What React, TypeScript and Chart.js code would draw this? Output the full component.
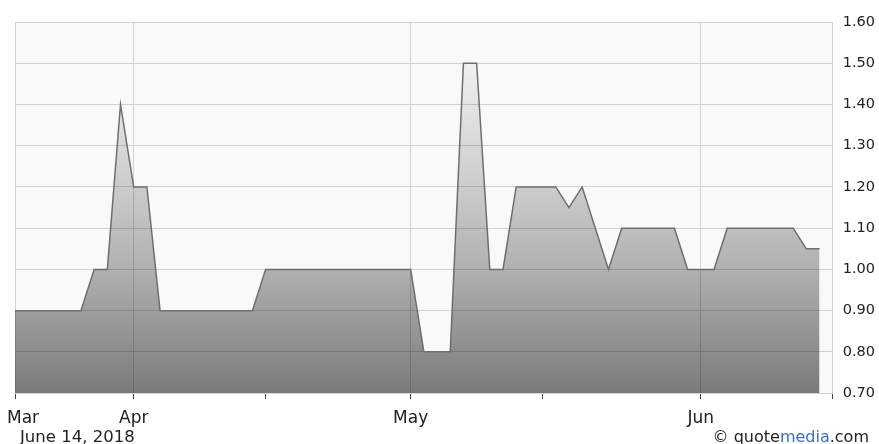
import React, { useEffect, useRef } from 'react';
import { Chart, registerables } from 'chart.js';

Chart.register(...registerables);

// Trading days shown on the chart (x categories)
const tradingDays = [
  '2018-03-19', '2018-03-20', '2018-03-21', '2018-03-22', '2018-03-23',
  '2018-03-26', '2018-03-27', '2018-03-28', '2018-03-29',
  '2018-04-02', '2018-04-03', '2018-04-04', '2018-04-05', '2018-04-06',
  '2018-04-09', '2018-04-10', '2018-04-11', '2018-04-12', '2018-04-13',
  '2018-04-16', '2018-04-17', '2018-04-18', '2018-04-19', '2018-04-20',
  '2018-04-23', '2018-04-24', '2018-04-25', '2018-04-26', '2018-04-27',
  '2018-04-30',
  '2018-05-01', '2018-05-02', '2018-05-03', '2018-05-04',
  '2018-05-07', '2018-05-08', '2018-05-09', '2018-05-10', '2018-05-11',
  '2018-05-14', '2018-05-15', '2018-05-16', '2018-05-17', '2018-05-18',
  '2018-05-21', '2018-05-22', '2018-05-23', '2018-05-24', '2018-05-25',
  '2018-05-29', '2018-05-30', '2018-05-31',
  '2018-06-01', '2018-06-04', '2018-06-05', '2018-06-06', '2018-06-07',
  '2018-06-08', '2018-06-11', '2018-06-12', '2018-06-13', '2018-06-14',
];

// Closing prices
const closePrices = [
  0.90, 0.90, 0.90, 0.90, 0.90, 0.90, 1.00, 1.00, 1.40,
  1.20, 1.20, 0.90, 0.90, 0.90, 0.90, 0.90, 0.90, 0.90, 0.90,
  1.00, 1.00, 1.00, 1.00, 1.00, 1.00, 1.00, 1.00, 1.00, 1.00, 1.00,
  1.00, 0.80, 0.80, 0.80, 1.50, 1.50, 1.00, 1.00, 1.20, 1.20,
  1.20, 1.20, 1.15, 1.20, 1.10, 1.00, 1.10, 1.10, 1.10, 1.10, 1.10,
  1.00, 1.00, 1.00, 1.10, 1.10, 1.10, 1.10, 1.10, 1.10, 1.05, 1.05,
];

// X axis ticks (dates) and their labels
const xTickDates = ['2018-03-19', '2018-04-02', '2018-04-16', '2018-05-01', '2018-05-15', '2018-06-01', '2018-06-15'];
const xTickLabels = ['Mar', 'Apr', '', 'May', '', 'Jun', ''];
const xGridDates = ['2018-03-19', '2018-04-02', '2018-05-01', '2018-06-01', '2018-06-15'];

// Y axis ticks
const yTickValues = [0.7, 0.8, 0.9, 1.0, 1.1, 1.2, 1.3, 1.4, 1.5, 1.6];

const footerDate = 'June 14, 2018';

const dateIndex = (d: string) => {
  const i = tradingDays.indexOf(d);
  return i === -1 ? tradingDays.length : i;
};

export default function App() {
  const canvasRef = useRef<HTMLCanvasElement | null>(null);

  useEffect(() => {
    if (!canvasRef.current) return;
    const xTickIdx = xTickDates.map(dateIndex);
    const xGridIdx = xGridDates.map(dateIndex);

    const plotBg = {
      id: 'plotBg',
      beforeDraw(chart: any) {
        const { ctx, chartArea: a } = chart;
        ctx.save();
        ctx.fillStyle = '#f9f9f9';
        ctx.fillRect(a.left, a.top, a.right - a.left, a.bottom - a.top);
        ctx.restore();
        const sx: any = chart.scales.x;
        if (sx && typeof sx.getLabelItems === 'function') {
          const items = sx.getLabelItems();
          if (items && items[0] && items[0].label === xTickLabels[0]) {
            items[0].options.textAlign = 'left';
            items[0].options.translation = [a.left - 8, items[0].options.translation[1]];
          }
        }
      },
    };

    const chart = new Chart(canvasRef.current, {
      type: 'line',
      data: {
        datasets: [
          {
            data: closePrices.map((p, i) => ({ x: i, y: p })),
            borderColor: '#6e6e6e',
            borderWidth: 1.5,
            pointRadius: 0,
            tension: 0,
            fill: 'start',
            backgroundColor: (ctx: any) => {
              const ca = ctx.chart.chartArea;
              if (!ca) return 'rgba(0,0,0,0.25)';
              const g = ctx.chart.ctx.createLinearGradient(0, ca.top, 0, ca.bottom);
              g.addColorStop(0, 'rgba(0,0,0,0.0)');
              g.addColorStop(0.13, 'rgba(0,0,0,0.045)');
              g.addColorStop(0.44, 'rgba(0,0,0,0.18)');
              g.addColorStop(0.67, 'rgba(0,0,0,0.295)');
              g.addColorStop(1, 'rgba(0,0,0,0.51)');
              return g;
            },
          },
        ],
      },
      options: {
        animation: false,
        responsive: false,
        events: [],
        layout: { padding: { left: 15, top: 22, right: -6, bottom: 6.5 } },
        plugins: { legend: { display: false }, tooltip: { enabled: false } },
        scales: {
          x: {
            type: 'linear',
            min: 0,
            max: tradingDays.length,
            afterBuildTicks: (axis: any) => {
              axis.ticks = xTickIdx.map((v) => ({ value: v }));
            },
            ticks: {
              autoSkip: false,
              maxRotation: 0,
              align: 'inner',
              padding: 9,
              color: '#222',
              font: { family: 'DejaVu Sans', size: 17 },
              callback: (_v: any, index: number) => xTickLabels[index] ?? '',
            },
            grid: {
              color: (ctx: any) =>
                ctx.tick && xGridIdx.includes(ctx.tick.value) ? '#d2d2d2' : 'rgba(0,0,0,0)',
              tickColor: '#444',
              tickLength: 6,
              drawTicks: true,
            },
            border: { display: false },
          },
          y: {
            type: 'linear',
            position: 'right',
            min: 0.7,
            max: 1.6,
            afterBuildTicks: (axis: any) => {
              axis.ticks = yTickValues.map((v) => ({ value: v }));
            },
            ticks: {
              padding: 10,
              color: '#222',
              font: { family: 'DejaVu Sans', size: 14.5 },
              callback: (v: any) => Number(v).toFixed(2),
            },
            grid: { color: '#d2d2d2', drawTicks: false },
            border: { display: false },
          },
        },
      },
      plugins: [plotBg],
    } as any);

    return () => chart.destroy();
  }, []);

  return (
    <div style={{ position: 'absolute', left: 0, top: 0, width: 879, height: 444, overflow: 'hidden', background: '#fff' }}>
      <canvas ref={canvasRef} width={879} height={444} style={{ display: 'block', width: 879, height: 444 }} />
      <span
        style={{
          position: 'absolute', left: 20, top: 428.5, fontFamily: 'DejaVu Sans', fontSize: 16.5,
          lineHeight: '16.5px', color: '#222', whiteSpace: 'nowrap',
        }}
      >
        {footerDate}
      </span>
      <span
        style={{
          position: 'absolute', right: 10, top: 429, fontFamily: 'DejaVu Sans', fontSize: 16,
          lineHeight: '16px', color: '#222', whiteSpace: 'nowrap',
        }}
      >
        © quote<span style={{ color: '#3d6fc4' }}>media</span>.com
      </span>
    </div>
  );
}
